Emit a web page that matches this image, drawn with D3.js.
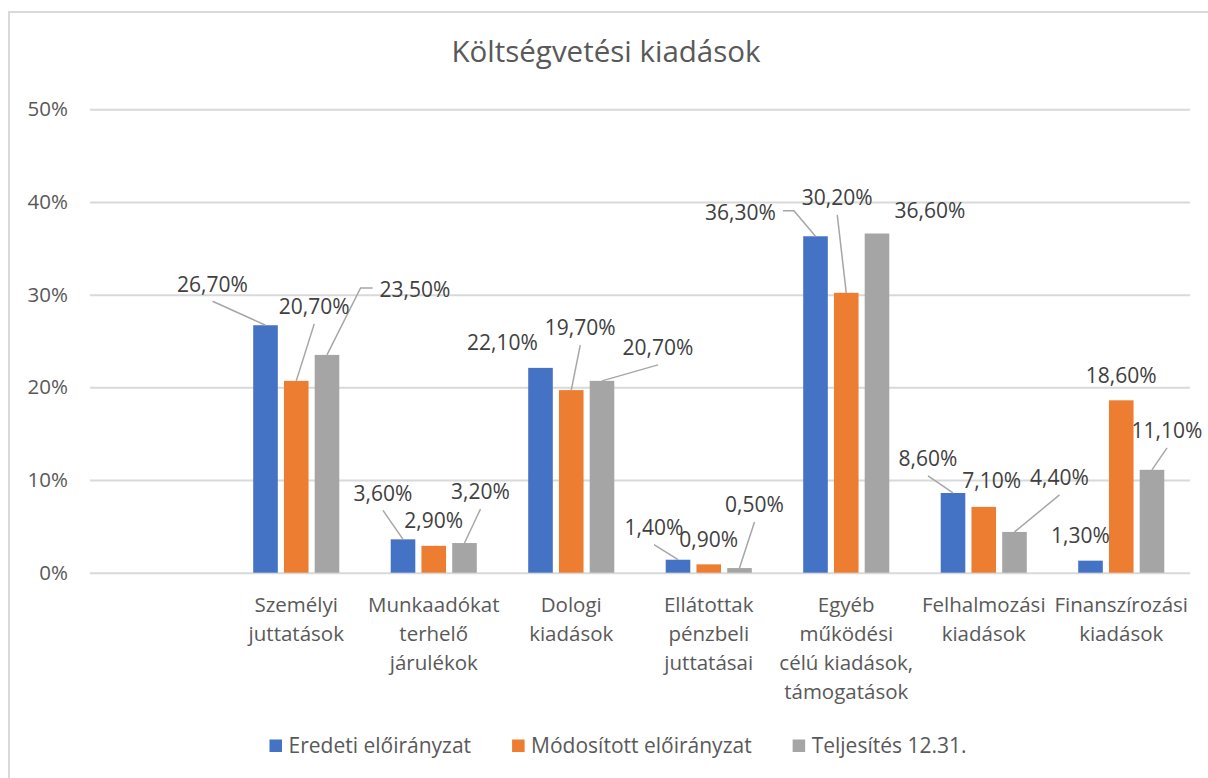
<!DOCTYPE html>
<html>
<head>
<meta charset="utf-8">
<script src="https://cdn.jsdelivr.net/npm/d3@7"></script>
<style>
  body { margin: 0; background: #fff; }
  svg text { font-family: "Open Sans", "Noto Sans", sans-serif; }
</style>
</head>
<body>
<div id="chart"></div>
<script>
// data
var title = "Költségvetési kiadások";
var categories = ["", "Személyi\njuttatások", "Munkaadókat\nterhelő\njárulékok", "Dologi\nkiadások",
  "Ellátottak\npénzbeli\njuttatásai", "Egyéb\nműködési\ncélú kiadások,\ntámogatások",
  "Felhalmozási\nkiadások", "Finanszírozási\nkiadások"];
var seriesNames = ["Eredeti előirányzat", "Módosított előirányzat", "Teljesítés 12.31."];
var eredeti = [null, 26.7, 3.6, 22.1, 1.4, 36.3, 8.6, 1.3];
var modositott = [null, 20.7, 2.9, 19.7, 0.9, 30.2, 7.1, 18.6];
var teljesites = [null, 23.5, 3.2, 20.7, 0.5, 36.6, 4.4, 11.1];
var yTicks = [0, 10, 20, 30, 40, 50];
var colors = ["#4472c4", "#ed7d31", "#a5a5a5"];

// where each data label was dragged to: [dx, dy, leader] relative to the top of its bar
// leader: "" none, "s" straight, "l" elbow on the left side, "r" elbow on the right side
var labelOffsets = [
  [null, null, null],
  [[-53, -41, "s"], [18, -74, "s"], [88, -65, "l"]],
  [[-20, -46, "s"], [0, -25, ""], [16, -51, "s"]],
  [[-38, -25, ""], [9, -62, "s"], [56, -33, "s"]],
  [[-24, -32, "s"], [0, -25, ""], [15, -63, "s"]],
  [[-75, -24, "r"], [-9, -95, "s"], [53, -23, ""]],
  [[-25, -34, "s"], [8, -26, ""], [45, -54, "s"]],
  [[-10, -25, ""], [0, -25, ""], [15, -39, "s"]]
];

var width = 1208, height = 778;
var margin = {left: 90, right: 18, top: 110, bottom: 205};

var svg = d3.select("#chart").append("svg")
  .attr("width", width)
  .attr("height", height);

// 1. chart border (runs off the bottom/right edge like in the screenshot)
svg.append("rect")
  .attr("x", 9).attr("y", 12)
  .attr("width", width + 10).attr("height", height + 10)
  .attr("fill", "#fff")
  .attr("stroke", "#d9d9d9")
  .attr("stroke-width", 2);

// 2. title
svg.append("text")
  .attr("x", 606).attr("y", 62)
  .attr("text-anchor", "middle")
  .attr("font-size", 29.5)
  .attr("fill", "#595959")
  .text(title);

// 3. scales
var x0 = d3.scaleBand()
  .domain(d3.range(categories.length))
  .range([margin.left, width - margin.right])
  .padding(0);

var groupWidth = x0.bandwidth() * 0.626;
var x1 = d3.scaleBand()
  .domain(d3.range(seriesNames.length))
  .range([0, groupWidth])
  .paddingInner(0.2)
  .paddingOuter(0);

var y = d3.scaleLinear()
  .domain([0, 50])
  .range([572.7, 109.3]);

// 4. gridlines + y axis labels
var yAxis = d3.axisLeft(y)
  .tickValues(yTicks)
  .tickSize(-(x0.range()[1] - x0.range()[0]))
  .tickPadding(22)
  .tickFormat(function(d) { return d + "%"; });

var gy = svg.append("g")
  .attr("transform", "translate(" + margin.left + ",0)")
  .call(yAxis);
gy.select(".domain").remove();
gy.selectAll(".tick line").attr("stroke", "#d9d9d9").attr("stroke-width", 2);
gy.selectAll(".tick text")
  .attr("font-size", 20.5)
  .attr("fill", "#595959")
  .attr("font-family", "Open Sans");

// 5. bars
var allSeries = [eredeti, modositott, teljesites];
var bars = [];
allSeries.forEach(function(vals, s) {
  vals.forEach(function(v, i) {
    if (v === null) return;
    bars.push({s: s, i: i, v: v});
  });
});

function barX(d) {
  return x0(d.i) + (x0.bandwidth() - groupWidth) / 2 + x1(d.s);
}

svg.append("g").selectAll("rect")
  .data(bars)
  .enter()
  .append("rect")
  .attr("x", barX)
  .attr("y", function(d) { return y(d.v); })
  .attr("width", x1.bandwidth())
  .attr("height", function(d) { return y(0) - y(d.v); })
  .attr("fill", function(d) { return colors[d.s]; });

// 6. data labels with leader lines
var fmt = function(v) { return v.toFixed(2).replace(".", ",") + "%"; };
var labelG = svg.append("g");
bars.forEach(function(d) {
  var off = labelOffsets[d.i][d.s];
  var bx = barX(d) + x1.bandwidth() / 2;
  var by = y(d.v);
  var lx = bx + off[0], ly = by + off[1];
  var t = labelG.append("text")
    .attr("x", lx).attr("y", ly)
    .attr("dy", "0.35em")
    .attr("text-anchor", "middle")
    .attr("font-size", 21)
    .attr("fill", "#404040")
    .text(fmt(d.v));
  var w = t.node().getComputedTextLength();
  var pts = null;
  if (off[2] === "s") {
    pts = [[lx, ly + 17], [bx, by]];
  } else if (off[2] === "l") {
    pts = [[lx - w / 2 - 7, ly - 2], [lx - w / 2 - 19, ly - 2], [bx, by]];
  } else if (off[2] === "r") {
    pts = [[lx + w / 2 + 7, ly - 1.5], [lx + w / 2 + 18, ly - 1.5], [bx, by]];
  }
  if (pts) {
    labelG.insert("path", "text")
      .attr("d", d3.line()(pts))
      .attr("fill", "none")
      .attr("stroke", "#a6a6a6")
      .attr("stroke-width", 1.5);
  }
});

// 7. category labels under the axis
var catG = svg.append("g");
categories.forEach(function(c, i) {
  if (!c) return;
  var lines = c.split("\n");
  var t = catG.append("text")
    .attr("text-anchor", "middle")
    .attr("font-size", 20.5)
    .attr("fill", "#595959");
  lines.forEach(function(line, k) {
    t.append("tspan")
      .attr("x", x0(i) + x0.bandwidth() / 2)
      .attr("y", 605 + k * 29)
      .attr("dy", "0.35em")
      .text(line);
  });
});

// 8. legend
var legend = svg.append("g");
var lx = 0;
seriesNames.forEach(function(name, s) {
  var g = legend.append("g");
  g.append("rect")
    .attr("x", lx).attr("y", -6.5)
    .attr("width", 12.5).attr("height", 12.5)
    .attr("fill", colors[s]);
  var t = g.append("text")
    .attr("x", lx + 19).attr("y", 0)
    .attr("dy", "0.35em")
    .attr("font-size", 21)
    .attr("fill", "#595959")
    .text(name);
  lx += 19 + t.node().getComputedTextLength() + 41;
});
var legendW = lx - 41;
legend.attr("transform", "translate(" + (618 - legendW / 2) + ",746)");
</script>
</body>
</html>
